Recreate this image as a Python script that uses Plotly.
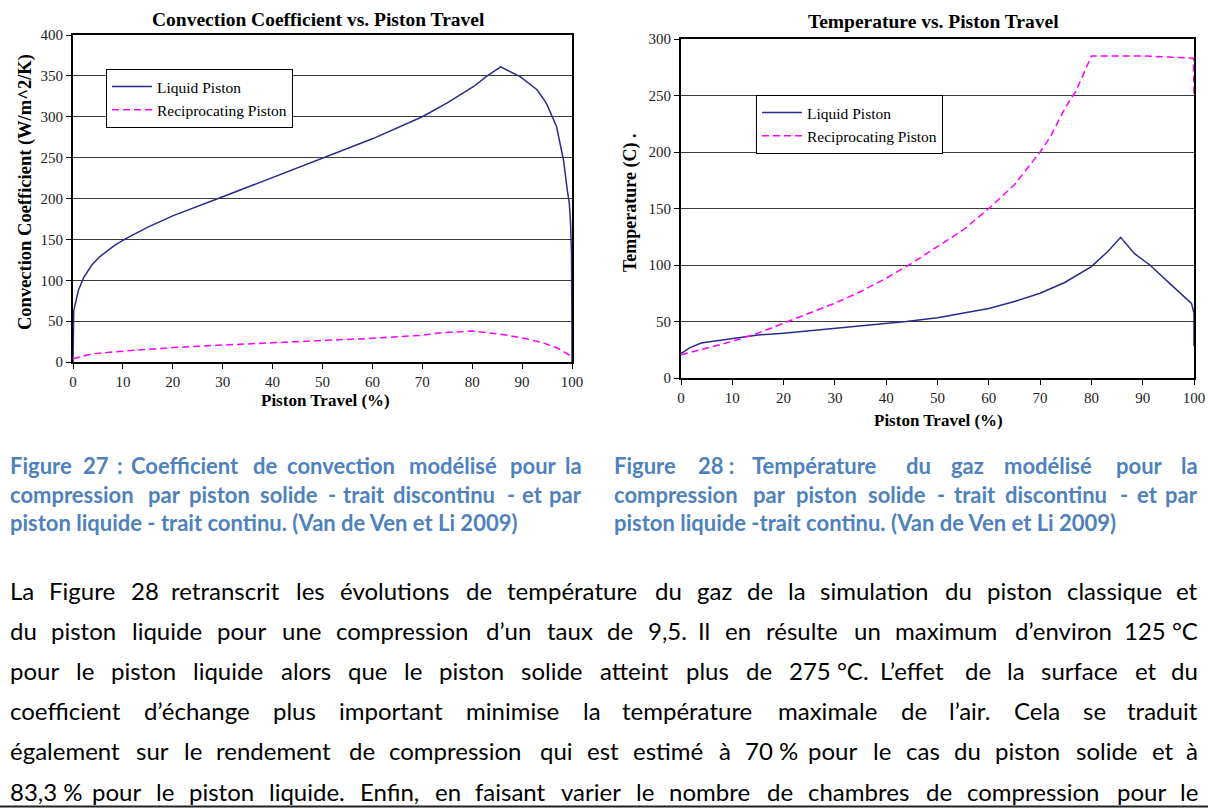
import unicodedata
import plotly.graph_objects as go

PAGE_W, PAGE_H = 1208, 809

# ---------------- data ----------------
series_names = ["Liquid Piston", "Reciprocating Piston"]

conv_x_liquid = [0, 0.05, 0.15, 1.1, 2.2, 3.8, 5.4, 8.4, 10.6, 15, 20.1, 28.7, 40, 50.2, 60, 70, 75,
                 80.3, 83, 85.7, 89.6, 93, 94.9, 96.9, 98.3, 99.06, 99.46, 99.7, 99.9, 100, 100]
conv_y_liquid = [0, 45, 63, 88, 104, 119, 129, 143, 151, 165, 179, 199, 226, 250, 273, 300, 317,
                 337, 350, 361, 349, 333, 316, 288, 247, 210, 194, 172, 133, 30, 0]

conv_x_recip = [0, 3.8, 10.6, 20, 28.7, 40, 50, 60, 70, 73.5, 80, 85.8, 90.4, 94.2, 97.3, 99.6, 100]
conv_y_recip = [4, 10, 13.5, 17.6, 20.4, 23.7, 25.8, 29, 32.7, 35.6, 38, 34, 29, 23.5, 16.5, 8, 4]

temp_x_liquid = [0, 1.6, 3.9, 6.9, 10, 15, 20, 30, 40, 43.9, 50, 60, 65, 70, 74.8, 80, 83.2, 85.7,
                 88.4, 91.4, 95.2, 99, 99.5, 100, 100]
temp_y_liquid = [21.5, 26.5, 31, 33, 35, 38, 39.7, 43.9, 48, 50, 53.3, 61.5, 67.7, 75, 84.5, 98.6,
                 112, 124.5, 110, 100, 84, 68.4, 66, 57.5, 28]

temp_x_recip = [0, 5, 10, 15, 20, 25, 30, 35, 40, 45, 50, 55, 60, 65, 70, 72, 75, 77, 80, 90, 95,
                99.9, 100]
temp_y_recip = [20.6, 26.5, 32.4, 39.7, 48.6, 56.8, 66.2, 76.5, 88.3, 101.6, 116, 131, 150, 171,
                200, 213.5, 240, 254, 285, 285, 284, 283, 249]

x_ticks = list(range(0, 101, 10))
conv_y_ticks = list(range(0, 401, 50))
temp_y_ticks = list(range(0, 301, 50))

chart_titles = ["Convection Coefficient vs. Piston Travel", "Temperature vs. Piston Travel"]
x_titles = ["Piston Travel (%)", "Piston Travel (%)"]
y_titles = ["Convection Coefficient (W/m^2/K)", "Temperature (C) ."]

caption_left = [
    "Figure 27 : Coefficient de convection modélisé pour la",
    "compression par piston solide - trait discontinu - et par",
    "piston liquide - trait continu. (Van de Ven et Li 2009)",
]
caption_right = [
    "Figure 28\u00a0: Température du gaz modélisé pour la",
    "compression par piston solide - trait discontinu - et par",
    "piston liquide -trait continu. (Van de Ven et Li 2009)",
]
body_lines = [
    "La Figure 28 retranscrit les évolutions de température du gaz de la simulation du piston classique et",
    "du piston liquide pour une compression d’un taux de 9,5. Il en résulte un maximum d’environ 125\u00a0°C",
    "pour le piston liquide alors que le piston solide atteint plus de 275\u00a0°C. L’effet de la surface et du",
    "coefficient d’échange plus important minimise la température maximale de l’air. Cela se traduit",
    "également sur le rendement de compression qui est estimé à 70\u00a0% pour le cas du piston solide et à",
    "83,3\u00a0% pour le piston liquide. Enfin, en faisant varier le nombre de chambres de compression pour le",
]

# ---------------- helpers ----------------
def px(x):
    return x / PAGE_W


def py(y):
    return 1 - y / PAGE_H


SERIF = "Liberation Serif, Times New Roman, Times, serif"
SANS = "Lato, Carlito, Calibri, sans-serif"
CAP_COLOR = "#4f81bd"

LATO = {' ': .193, '\u00a0': .193,
        'a': .488, 'b': .556, 'c': .462, 'd': .556, 'e': .522, 'f': .324, 'g': .497, 'h': .556,
        'i': .236, 'j': .236, 'k': .505, 'l': .236, 'm': .834, 'n': .556, 'o': .556, 'p': .551,
        'q': .556, 'r': .370, 's': .431, 't': .352, 'u': .556, 'v': .508, 'w': .776, 'x': .491,
        'y': .508, 'z': .451,
        'A': .672, 'B': .640, 'C': .688, 'D': .752, 'E': .566, 'F': .552, 'G': .738, 'H': .760,
        'I': .288, 'J': .396, 'K': .660, 'L': .500, 'M': .920, 'N': .760, 'O': .808, 'P': .600,
        'Q': .808, 'R': .618, 'S': .520, 'T': .596, 'U': .734, 'V': .672, 'W': 1.0, 'X': .640,
        'Y': .614, 'Z': .600,
        '.': .214, ',': .214, "'": .230, '’': .230, '(': .316, ')': .316, '%': .766, '°': .400,
        '-': .340, ':': .240}
for d in "0123456789":
    LATO[d] = .520


def text_w(s, size, bold=False):
    tot = 0.0
    for ch in s:
        base = unicodedata.normalize("NFD", ch)[0]
        tot += LATO.get(ch, LATO.get(base, .55))
    return tot * size * (1.08 if bold else 1.03)


annotations = []


def add_text(x, y, text, size, family, color="black", xanchor="center", angle=0):
    annotations.append(dict(x=px(x), y=py(y), xref="paper", yref="paper", text=text,
                            showarrow=False, xanchor=xanchor, yanchor="middle", textangle=angle,
                            font=dict(family=family, size=size, color=color), borderpad=0))


def justified(line, x0, x1, y, size, color, bold=False):
    words = line.split(" ")
    widths = [text_w(w, size, bold) for w in words]
    gap = (x1 - x0 - sum(widths)) / (len(words) - 1)
    x = x0
    for i, w in enumerate(words):
        t = "<b>%s</b>" % w if bold else w
        if i == len(words) - 1:
            add_text(x1, y, t, size, SANS, color, xanchor="right")
        else:
            add_text(x, y, t, size, SANS, color, xanchor="left")
        x += widths[i] + gap


# ---------------- figure ----------------
fig = go.Figure()

liq_style = dict(color="#2b2b8c", width=1.5)
rec_style = dict(color="#ff00ff", width=1.5, dash="7px,4px")

fig.add_trace(go.Scatter(x=conv_x_liquid, y=conv_y_liquid, mode="lines", name=series_names[0],
                         line=liq_style, xaxis="x", yaxis="y", legend="legend"))
fig.add_trace(go.Scatter(x=conv_x_recip, y=conv_y_recip, mode="lines", name=series_names[1],
                         line=rec_style, xaxis="x", yaxis="y", legend="legend"))
fig.add_trace(go.Scatter(x=temp_x_liquid, y=temp_y_liquid, mode="lines", name=series_names[0],
                         line=liq_style, xaxis="x2", yaxis="y2", legend="legend2"))
fig.add_trace(go.Scatter(x=temp_x_recip, y=temp_y_recip, mode="lines", name=series_names[1],
                         line=rec_style, xaxis="x2", yaxis="y2", legend="legend2"))

ax_common = dict(showline=True, linecolor="black", linewidth=2, mirror=True, ticks="outside",
                 ticklen=5, tickwidth=1.2, tickcolor="black", zeroline=False, automargin=False,
                 tickfont=dict(family=SERIF, size=15, color="#222222"))
grid = dict(showgrid=True, gridcolor="#3a3a3a", gridwidth=1.2)

# titles
add_text(318, 20, "<b>%s</b>" % chart_titles[0], 19.5, SERIF)
add_text(933, 22, "<b>%s</b>" % chart_titles[1], 19.5, SERIF)
add_text(325, 401, "<b>%s</b>" % x_titles[0], 17, SERIF)
add_text(938, 420, "<b>%s</b>" % x_titles[1], 17, SERIF)
add_text(25, 192, "<b>%s</b>" % y_titles[0], 18.5, SERIF, angle=-90)
add_text(631, 203, "<b>%s</b>" % y_titles[1], 18, SERIF, angle=-90)

# captions
cap_size = 22
cap_y = [465, 494, 522]
for i, line in enumerate(caption_left):
    if i < 2:
        justified(line, 9, 583, cap_y[i], cap_size, CAP_COLOR, bold=True)
    else:
        add_text(9, cap_y[i], "<b>%s</b>" % line, cap_size, SANS, CAP_COLOR, xanchor="left")
for i, line in enumerate(caption_right):
    if i < 2:
        justified(line, 613, 1199, cap_y[i], cap_size, CAP_COLOR, bold=True)
    else:
        add_text(613, cap_y[i], "<b>%s</b>" % line, cap_size, SANS, CAP_COLOR, xanchor="left")

# body paragraph
body_size = 24
for i, line in enumerate(body_lines):
    justified(line, 9, 1199, 590 + 40.2 * i, body_size, "black")

legend_common = dict(xanchor="left", yanchor="top", bgcolor="white", bordercolor="black",
                     borderwidth=1, font=dict(family=SERIF, size=15.5, color="black"),
                     itemwidth=40, tracegroupgap=0)

fig.update_layout(
    template="none",
    width=PAGE_W, height=PAGE_H, autosize=False,
    margin=dict(l=0, r=0, t=0, b=0, pad=0, autoexpand=False),
    paper_bgcolor="white", plot_bgcolor="white",
    xaxis=dict(domain=[px(73), px(572)], anchor="y", range=[0, 100], tickvals=x_ticks,
               showgrid=False, **ax_common),
    yaxis=dict(domain=[py(362), py(35)], anchor="x", range=[0, 400], tickvals=conv_y_ticks,
               **grid, **ax_common),
    xaxis2=dict(domain=[px(681), px(1194)], anchor="y2", range=[0, 100], tickvals=x_ticks,
                showgrid=False, **ax_common),
    yaxis2=dict(domain=[py(378), py(39)], anchor="x2", range=[0, 300], tickvals=temp_y_ticks,
                **grid, **ax_common),
    legend=dict(x=px(106), y=py(69), **legend_common),
    legend2=dict(x=px(756), y=py(95), **legend_common),
    annotations=annotations,
    shapes=[dict(type="line", xref="paper", yref="paper", x0=0, x1=1, y0=py(806.5), y1=py(806.5),
                 line=dict(color="#222222", width=2))],
    showlegend=True,
)

fig.write_html("out.html", config={"displayModeBar": False},
               post_script="document.body.style.margin='0';document.body.style.overflow='hidden';")
